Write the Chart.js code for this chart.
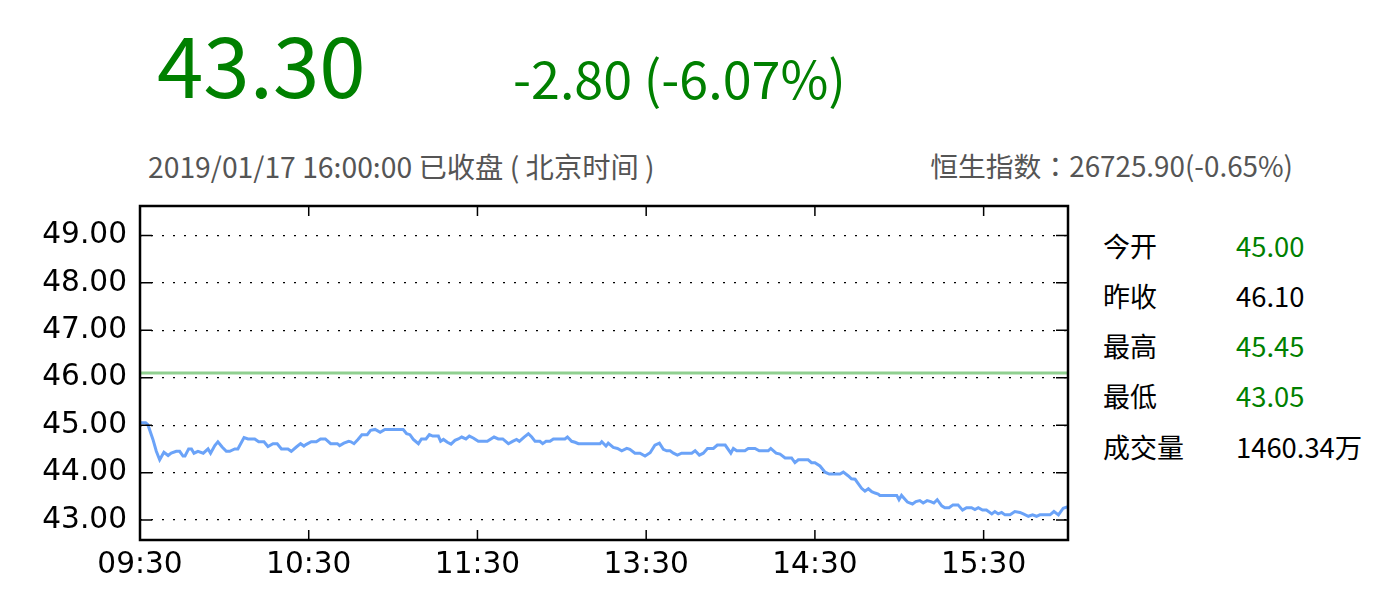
<!DOCTYPE html>
<html>
<head>
<meta charset="utf-8">
<script src="https://cdn.jsdelivr.net/npm/chart.js@4/dist/chart.umd.min.js"></script>
<style>
    html, body { margin: 0; padding: 0; background: #fff; }
    body { width: 1400px; height: 600px; position: relative; overflow: hidden;
           font-family: 'Noto Sans CJK SC', 'Noto Sans', sans-serif; }
    #chart { position: absolute; left: 0; top: 0; }
    .t { position: absolute; line-height: 1; white-space: nowrap; }
    .green { color: #008000; }
    .grey { color: #555; }
    .lbl { left: 1103px; font-size: 27px; color: #000; }
    .val { left: 1236px; font-size: 27.4px; }
    .tc { font-family: 'Noto Sans CJK TC', sans-serif; }
</style>
</head>
<body>
<div class="t green" style="left:157px; top:20px; font-size:83.5px;">43.30</div>
<div class="t green" style="left:513px; top:51px; font-size:52px;">-2.80 (-6.07%)</div>
<div class="t grey" style="left:148px; top:152px; font-size:28.3px;">2019/01/17 16:00:00 已收盘 ( 北京时间 )</div>
<div class="t grey" style="right:107px; top:152px; font-size:27.8px;">恒生指数<span class="tc">：</span>26725.90(-0.65%)</div>

<div class="t lbl" style="top:232px">今开</div><div class="t val green" style="top:232px">45.00</div>
<div class="t lbl" style="top:282px">昨收</div><div class="t val" style="top:282px">46.10</div>
<div class="t lbl" style="top:332px">最高</div><div class="t val green" style="top:332px">45.45</div>
<div class="t lbl" style="top:382px">最低</div><div class="t val green" style="top:382px">43.05</div>
<div class="t lbl" style="top:433px">成交量</div><div class="t val" style="top:433px">1460.34万</div>

<canvas id="chart" width="1400" height="600"></canvas>

<script>
// 分时数据：分钟（从 09:30 起，午休已去掉）和价格
const minutes = [
    0, 2, 2.8, 4.6, 5.8, 7, 8.5, 10, 11.1, 12.9, 14.1, 15.3, 16, 17.3, 18.3, 19.2, 20.6, 22.5, 24.2, 25.1,
    26.6, 27.7, 29.2, 30.7, 31.9, 33.7, 34.8, 37, 38.4, 40.8, 42.2, 44.1, 45.5, 47.3, 48.8, 50.3, 52.6, 53.8, 55.6, 57.1,
    58.3, 59, 60.9, 62.7, 64.2, 65.9, 67.8, 70.2, 71, 72.5, 74.2, 75, 76.1, 77.5, 78.9, 80.8, 82, 83.6, 85.4, 87.1,
    93.6, 94.8, 96, 97.2, 99, 100.1, 101.7, 102.9, 104.1, 106.1, 106.9, 107.9, 109.3, 110.6, 112, 113.2, 114.4, 115.9, 117.1, 118.5,
    120.3, 123.5, 125.9, 127.4, 129, 131, 132.5, 133.9, 134.9, 136.6, 138.1, 139.3, 140.5, 142.2, 143.2, 144.4, 145.8, 147, 151.1, 152,
    153.5, 154.7, 155.9, 163.6, 164.2, 165.7, 166.5, 168.3, 169.8, 171.3, 173.1, 174.2, 176, 177.8, 179.6, 181.4, 183.1, 184.7, 186.1, 187.3,
    188.5, 189.7, 191.1, 192.6, 196.2, 197.4, 198.9, 200.3, 201.8, 203.9, 205.3, 208.1, 210.1, 211, 212.2, 215.1, 216.3, 218.7, 220.2, 223.4,
    224.3, 226.2, 227.6, 229.4, 231.7, 232.9, 234.1, 237.6, 238.8, 240, 241.8, 243.6, 245.1, 248.9, 250.1, 251.9, 253, 254.3, 255.4, 256.6,
    257.8, 259, 260.2, 261.4, 262.5, 263.1, 269.1, 269.9, 270.8, 271.7, 272.9, 274.7, 275.9, 277.3, 278.5, 279.9, 281.2, 282.3, 283.5, 285.1,
    286.2, 287.7, 289.1, 290.9, 292.5, 293.9, 295.7, 296.9, 298.1, 299.6, 301, 302.9, 304, 305.2, 306.4, 307.6, 309.4, 311.1, 312.9, 314.1,
    315.9, 317.4, 318.8, 320, 323.6, 325, 326.6, 328.3, 330
];
const prices = [
    45.05, 45.05, 45.01, 44.70, 44.45, 44.27, 44.43, 44.36, 44.41, 44.45, 44.45, 44.35, 44.35, 44.50, 44.50, 44.41, 44.45, 44.41, 44.50, 44.41,
    44.57, 44.65, 44.54, 44.45, 44.45, 44.50, 44.50, 44.74, 44.71, 44.71, 44.65, 44.65, 44.55, 44.61, 44.61, 44.50, 44.50, 44.45, 44.54, 44.61,
    44.56, 44.59, 44.65, 44.65, 44.71, 44.71, 44.61, 44.61, 44.57, 44.62, 44.66, 44.65, 44.61, 44.70, 44.80, 44.80, 44.89, 44.91, 44.85, 44.91,
    44.91, 44.82, 44.80, 44.70, 44.61, 44.71, 44.71, 44.80, 44.77, 44.77, 44.66, 44.70, 44.64, 44.60, 44.68, 44.71, 44.75, 44.71, 44.77, 44.73,
    44.66, 44.66, 44.75, 44.71, 44.71, 44.61, 44.66, 44.70, 44.66, 44.75, 44.82, 44.75, 44.66, 44.66, 44.61, 44.66, 44.66, 44.71, 44.71, 44.75,
    44.66, 44.64, 44.61, 44.61, 44.65, 44.56, 44.62, 44.53, 44.51, 44.46, 44.51, 44.49, 44.41, 44.41, 44.35, 44.42, 44.58, 44.62, 44.49, 44.46,
    44.46, 44.41, 44.37, 44.41, 44.41, 44.46, 44.37, 44.41, 44.51, 44.51, 44.58, 44.58, 44.41, 44.51, 44.46, 44.46, 44.51, 44.51, 44.46, 44.46,
    44.51, 44.41, 44.39, 44.31, 44.31, 44.21, 44.27, 44.27, 44.21, 44.21, 44.14, 44.01, 43.97, 43.97, 44.01, 43.93, 43.87, 43.86, 43.77, 43.67,
    43.61, 43.66, 43.60, 43.57, 43.55, 43.52, 43.52, 43.43, 43.52, 43.46, 43.38, 43.34, 43.39, 43.41, 43.36, 43.41, 43.39, 43.36, 43.43, 43.30,
    43.26, 43.26, 43.32, 43.32, 43.21, 43.26, 43.26, 43.22, 43.26, 43.21, 43.21, 43.13, 43.18, 43.13, 43.16, 43.11, 43.11, 43.18, 43.16, 43.13,
    43.08, 43.11, 43.08, 43.11, 43.11, 43.18, 43.11, 43.25, 43.28
];
const prevClose = 46.10;
const sessionEnd = 330;

const xTickMinutes = [0, 60, 120, 180, 240, 300];
const xTickLabels = ['09:30', '10:30', '11:30', '13:30', '14:30', '15:30'];
const yTickValues = [43, 44, 45, 46, 47, 48, 49];
const yMin = 42.58, yMax = 49.62;

const AXIS_FONT = { family: "'DejaVu Sans', sans-serif", size: 29.6 };

// 边框 + 四边朝内的刻度（matplotlib 经典样式）
const frameTicks = {
    id: 'frameTicks',
    afterDraw(chart) {
        const { ctx, chartArea: a, scales } = chart;
        ctx.save();
        ctx.strokeStyle = '#000';
        ctx.lineWidth = 1.5;
        ctx.beginPath();
        scales.x.ticks.forEach(t => {
            const px = scales.x.getPixelForValue(t.value);
            ctx.moveTo(px, a.bottom); ctx.lineTo(px, a.bottom - 10);
            ctx.moveTo(px, a.top); ctx.lineTo(px, a.top + 10);
        });
        scales.y.ticks.forEach(t => {
            const py = scales.y.getPixelForValue(t.value);
            ctx.moveTo(a.left, py); ctx.lineTo(a.left + 12, py);
            ctx.moveTo(a.right, py); ctx.lineTo(a.right - 12, py);
        });
        ctx.stroke();
        ctx.lineWidth = 2.5;
        ctx.strokeRect(a.left, a.top, a.right - a.left, a.bottom - a.top);
        ctx.restore();
    }
};

new Chart(document.getElementById('chart'), {
    type: 'line',
    data: {
        datasets: [
            {
                data: minutes.map((m, i) => ({ x: m, y: prices[i] })),
                borderColor: '#6ba3f8', borderWidth: 3, pointRadius: 0, tension: 0
            },
            {
                data: [{ x: 0, y: prevClose }, { x: sessionEnd, y: prevClose }],
                borderColor: '#90d090', borderWidth: 3, pointRadius: 0
            }
        ]
    },
    options: {
        responsive: false, animation: false,
        layout: { padding: { left: 0, top: 206, right: 332, bottom: 0 } },
        plugins: { legend: { display: false }, tooltip: { enabled: false } },
        scales: {
            x: {
                type: 'linear', min: 0, max: sessionEnd,
                afterBuildTicks: s => { s.ticks = xTickMinutes.map(v => ({ value: v })); },
                afterFit: s => { s.height = 60; },
                ticks: { callback: v => xTickLabels[xTickMinutes.indexOf(v)], font: AXIS_FONT, color: '#000',
                         padding: 8, maxRotation: 0, autoSkip: false },
                grid: { display: false, drawTicks: false },
                border: { display: false }
            },
            y: {
                min: yMin, max: yMax,
                afterBuildTicks: s => { s.ticks = yTickValues.map(v => ({ value: v })); },
                afterFit: s => { s.width = 140; },
                ticks: { callback: v => v.toFixed(2), font: AXIS_FONT, color: '#000', padding: 13 },
                grid: { color: '#000', lineWidth: 1.3, drawTicks: false },
                border: { display: false, dash: [2, 9] }
            }
        }
    },
    plugins: [frameTicks]
});
</script>
</body>
</html>
